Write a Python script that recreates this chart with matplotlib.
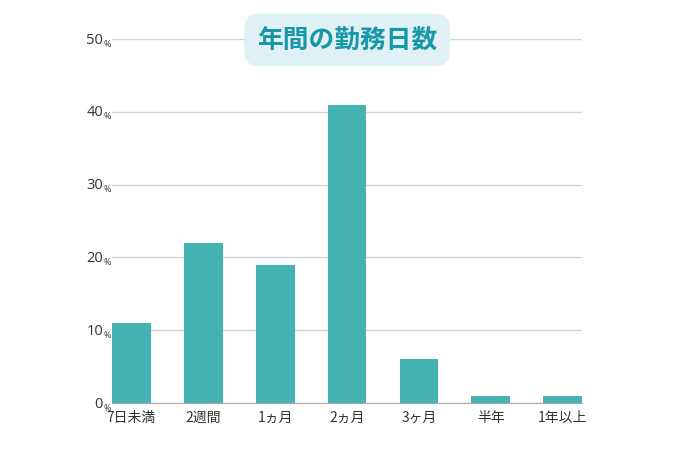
import matplotlib
matplotlib.use('Agg')
from matplotlib import pyplot as plt
from matplotlib.transforms import offset_copy

plt.rcParams['font.family'] = ['Noto Sans CJK JP', 'DejaVu Sans']

categories = ['7日未満', '2週間', '1ヵ月', '2ヵ月', '3ヶ月', '半年', '1年以上']
values = [11, 22, 19, 41, 6, 1, 1]
yticks = [0, 10, 20, 30, 40, 50]
title = '年間の勤務日数'

bar_color = '#45b3b3'
title_color = '#1897a8'
title_bg = '#dff1f4'

fig = plt.figure(figsize=(6.95, 4.60), dpi=100)
ax = fig.add_axes([0.1612, 0.1217, 0.6763, 0.7913])

x = range(len(categories))
ax.bar(x, values, width=0.54, color=bar_color, zorder=3)
ax.set_xlim(-0.27, len(categories) - 1 + 0.27)
ax.set_ylim(0, 50)

ax.set_yticks(yticks)
ax.set_yticklabels([])
ax.tick_params(axis='y', length=0)
ax.yaxis.grid(True, color='#d4d4d4', linewidth=1, zorder=0)
for s in ['top', 'right', 'left']:
    ax.spines[s].set_visible(False)
ax.spines['bottom'].set_color('#aaaaaa')
ax.spines['bottom'].set_zorder(4)

ax.set_xticks(list(x))
ax.set_xticklabels(categories, fontsize=10, color='#333333')
ax.tick_params(axis='x', length=0, pad=5)

# y labels: number + small percent sign
trans = ax.get_yaxis_transform()
for t in yticks:
    ax.text(0, t, str(t), transform=offset_copy(trans, fig=fig, x=-6.5, y=0, units='points'),
            ha='right', va='center', fontsize=10.5, color='#333333',
            family=['Open Sans', 'DejaVu Sans'])
    ax.text(0, t, '%', transform=offset_copy(trans, fig=fig, x=-6.5, y=-3, units='points'),
            ha='left', va='center', fontsize=6.5, color='#333333',
            family=['Open Sans', 'DejaVu Sans'])

fig.text(0.4995, 0.911, title, ha='center', va='center', fontsize=18.5,
         fontweight='bold', color=title_color,
         bbox=dict(boxstyle='round,pad=0.5,rounding_size=0.6', fc=title_bg, ec='none'),
         zorder=10)

fig.savefig('out.png', dpi=100)
